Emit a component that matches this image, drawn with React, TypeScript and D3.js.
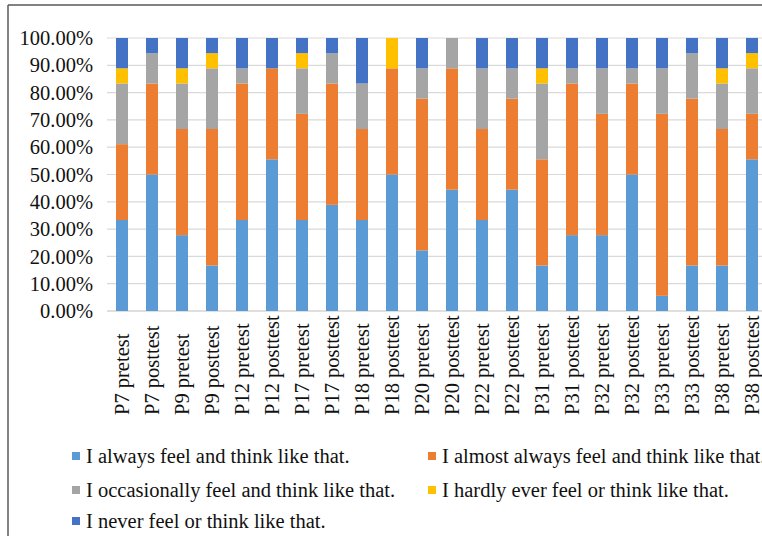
import React from "react";
import * as d3 from "d3";

// Participants, before and after the intervention
const categories = [
  "P7 pretest", "P7 posttest", "P9 pretest", "P9 posttest",
  "P12 pretest", "P12 posttest", "P17 pretest", "P17 posttest",
  "P18 pretest", "P18 posttest", "P20 pretest", "P20 posttest",
  "P22 pretest", "P22 posttest", "P31 pretest", "P31 posttest",
  "P32 pretest", "P32 posttest", "P33 pretest", "P33 posttest",
  "P38 pretest", "P38 posttest",
];

// Share of answers per response option (%)
const always = [33.33, 50, 27.78, 16.67, 33.33, 55.56, 33.33, 38.89, 33.33, 50, 22.22, 44.44, 33.33, 44.44, 16.67, 27.78, 27.78, 50, 5.56, 16.67, 16.67, 55.56];
const almostAlways = [27.78, 33.33, 38.89, 50, 50, 33.33, 38.89, 44.44, 33.33, 38.89, 55.56, 44.44, 33.33, 33.33, 38.89, 55.56, 44.44, 33.33, 66.67, 61.11, 50, 16.67];
const occasionally = [22.22, 11.11, 16.67, 22.22, 5.56, 0, 16.67, 11.11, 16.67, 0, 11.11, 11.11, 22.22, 11.11, 27.78, 5.56, 16.67, 5.56, 16.67, 16.67, 16.67, 16.67];
const hardlyEver = [5.56, 0, 5.56, 5.56, 0, 0, 5.56, 0, 0, 11.11, 0, 0, 0, 0, 5.56, 0, 0, 0, 0, 0, 5.56, 5.56];
const never = [11.11, 5.56, 11.11, 5.56, 11.11, 11.11, 5.56, 5.56, 16.67, 0, 11.11, 0, 11.11, 11.11, 11.11, 11.11, 11.11, 11.11, 11.11, 5.56, 11.11, 5.56];

const yTicks = [0, 10, 20, 30, 40, 50, 60, 70, 80, 90, 100];

const seriesNames = [
  "I always feel and think like that.",
  "I almost always feel and think like that.",
  "I occasionally feel and think like that.",
  "I hardly ever feel or think like that.",
  "I never feel or think like that.",
];
const seriesColors = ["#5B9BD5", "#ED7D31", "#A5A5A5", "#FFC000", "#4472C4"];
const seriesValues = [always, almostAlways, occasionally, hardlyEver, never];

const W = 762;
const H = 536;
const FONT = '"Liberation Serif", "Times New Roman", Times, serif';

export default function App() {
  const rows = categories.map((c, i) => {
    const r: Record<string, any> = { cat: c };
    seriesNames.forEach((s, k) => (r[s] = seriesValues[k][i]));
    return r;
  });
  const stacked = d3.stack<any>().keys(seriesNames)(rows);

  const x = d3
    .scaleBand<string>()
    .domain(categories)
    .range([107, 767])
    .paddingInner(0.6)
    .paddingOuter(0.3);
  const y = d3.scaleLinear().domain([0, 100]).range([311, 38]);

  const legendItems = [
    { k: 0, x: 72, y: 456 },
    { k: 1, x: 428, y: 456 },
    { k: 2, x: 72, y: 490 },
    { k: 3, x: 428, y: 490 },
    { k: 4, x: 72, y: 521 },
  ];

  const textStyle = { fontFamily: FONT, fontSize: "20.5px" };

  return (
    <div style={{ position: "fixed", left: 0, top: 0, width: W, height: H, background: "#fff" }}>
      <svg width={W} height={H} style={{ display: "block", fontFamily: FONT }}>
        <rect x={0} y={0} width={W} height={H} fill="#fff" />
        {/* frame */}
        <line x1={8} x2={W} y1={5} y2={5} stroke="#595959" strokeWidth={1.5} />
        <line x1={8} x2={8} y1={5} y2={H} stroke="#595959" strokeWidth={1.5} />

        {/* gridlines and y tick labels */}
        {yTicks.map((t) => (
          <g key={t}>
            <line x1={107} x2={W} y1={y(t)} y2={y(t)} stroke={t === 0 ? "#bfbfbf" : "#d9d9d9"} strokeWidth={1.2} />
            <text x={93} y={y(t)} dy="0.35em" textAnchor="end" style={textStyle} fill="#111">
              {t.toFixed(2)}%
            </text>
          </g>
        ))}

        {/* stacked bars */}
        {stacked.map((layer, k) => (
          <g key={layer.key} fill={seriesColors[k]}>
            {layer.map((d, i) => (
              <rect
                key={i}
                x={x(categories[i])}
                width={x.bandwidth()}
                y={y(d[1])}
                height={Math.max(0, y(d[0]) - y(d[1]))}
              />
            ))}
          </g>
        ))}

        {/* category labels */}
        {categories.map((c) => {
          const cx = (x(c) as number) + x.bandwidth() / 2;
          return (
            <text
              key={c}
              transform={`translate(${cx},415) rotate(-90)`}
              dy="0.35em"
              textAnchor="start"
              style={textStyle}
              fill="#111"
            >
              {c}
            </text>
          );
        })}

        {/* legend */}
        {legendItems.map((it) => (
          <g key={it.k}>
            <rect x={it.x} y={it.y - 4} width={8} height={8} fill={seriesColors[it.k]} />
            <text x={it.x + 14} y={it.y} dy="0.35em" style={textStyle} fill="#111">
              {seriesNames[it.k]}
            </text>
          </g>
        ))}
      </svg>
    </div>
  );
}
